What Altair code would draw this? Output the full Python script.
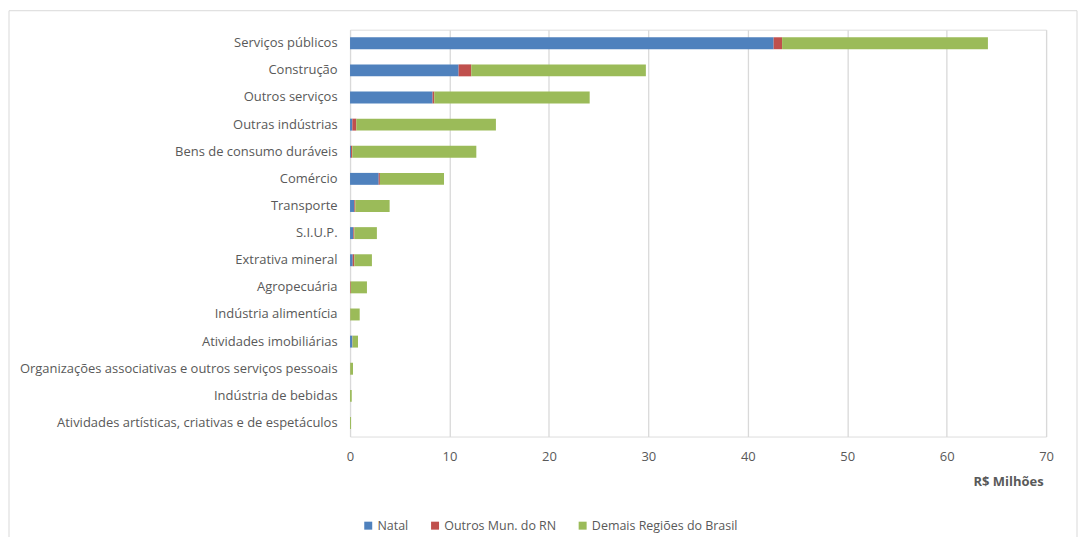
import altair as alt
import pandas as pd

categories = [
    "Serviços públicos", "Construção", "Outros serviços", "Outras indústrias",
    "Bens de consumo duráveis", "Comércio", "Transporte", "S.I.U.P.",
    "Extrativa mineral", "Agropecuária", "Indústria alimentícia",
    "Atividades imobiliárias",
    "Organizações associativas e outros serviços pessoais",
    "Indústria de bebidas",
    "Atividades artísticas, criativas e de espetáculos",
]
series = ["Natal", "Outros Mun. do RN", "Demais Regiões do Brasil"]
natal = [42.6, 10.92, 8.3, 0.23, 0.1, 2.88, 0.43, 0.33, 0.27, 0.0, 0.0, 0.23, 0.0, 0.0, 0.0]
outros_rn = [0.85, 1.27, 0.17, 0.4, 0.13, 0.12, 0.1, 0.1, 0.16, 0.07, 0.02, 0.02, 0.02, 0.0, 0.0]
demais = [20.7, 17.56, 15.63, 14.04, 12.47, 6.45, 3.45, 2.27, 1.77, 1.63, 0.95, 0.55, 0.28, 0.17, 0.1]
colors = ["#4F81BD", "#C0504D", "#9BBB59"]

rows = []
for s_i, (s, vals) in enumerate(zip(series, [natal, outros_rn, demais])):
    for c, v in zip(categories, vals):
        rows.append({"setor": c, "origem": s, "valor": v, "ordem": s_i})
df = pd.DataFrame(rows)

FONT = "Open Sans"
GRAY = "#595959"

bars = alt.Chart(df).mark_bar().encode(
    y=alt.Y("setor:N", sort=categories, title=None,
            scale=alt.Scale(paddingInner=0.56, paddingOuter=0.28),
            axis=alt.Axis(labelFont=FONT, labelFontSize=13, labelColor=GRAY,
                          ticks=False, domain=False, labelPadding=13, labelLimit=400)),
    x=alt.X("valor:Q", stack="zero", title="R$ Milhões",
            scale=alt.Scale(domain=[0, 70], nice=False),
            axis=alt.Axis(values=list(range(0, 71, 10)), labelFont=FONT, labelFontSize=13,
                          labelColor=GRAY, ticks=False, domain=False, labelPadding=14,
                          labelFlush=False,
                          gridColor="#D9D9D9", gridWidth=1.3,
                          titleFont=FONT, titleFontSize=13, titleFontWeight="bold",
                          titleColor=GRAY, titleAnchor="end", titleAlign="right",
                          titleX=695, titlePadding=12)),
    color=alt.Color("origem:N", sort=series,
                    scale=alt.Scale(domain=series, range=colors),
                    legend=alt.Legend(title=None, orient="none", direction="horizontal",
                                      legendX=12, legendY=491, symbolType="square",
                                      symbolSize=64, symbolStrokeWidth=0,
                                      labelFont=FONT, labelFontSize=12.5, labelColor=GRAY,
                                      columnPadding=20, labelOffset=3)),
    order=alt.Order("ordem:Q"),
)

frame = alt.Chart(pd.DataFrame({"a": [0]})).mark_rect(
    fill=None, stroke="#D9D9D9", strokeWidth=1
).encode(
    x=alt.value(-342), x2=alt.value(729), y=alt.value(-19), y2=alt.value(540)
)

chart = alt.layer(frame, bars).properties(
    width=698, height=408,
    autosize=alt.AutoSizeParams(type="none"),
    padding={"left": 343, "top": 21, "right": 34, "bottom": 100},
).configure_view(stroke=None).configure(background="white")

chart.save("out.html", embed_options={"renderer": "svg", "actions": False})
